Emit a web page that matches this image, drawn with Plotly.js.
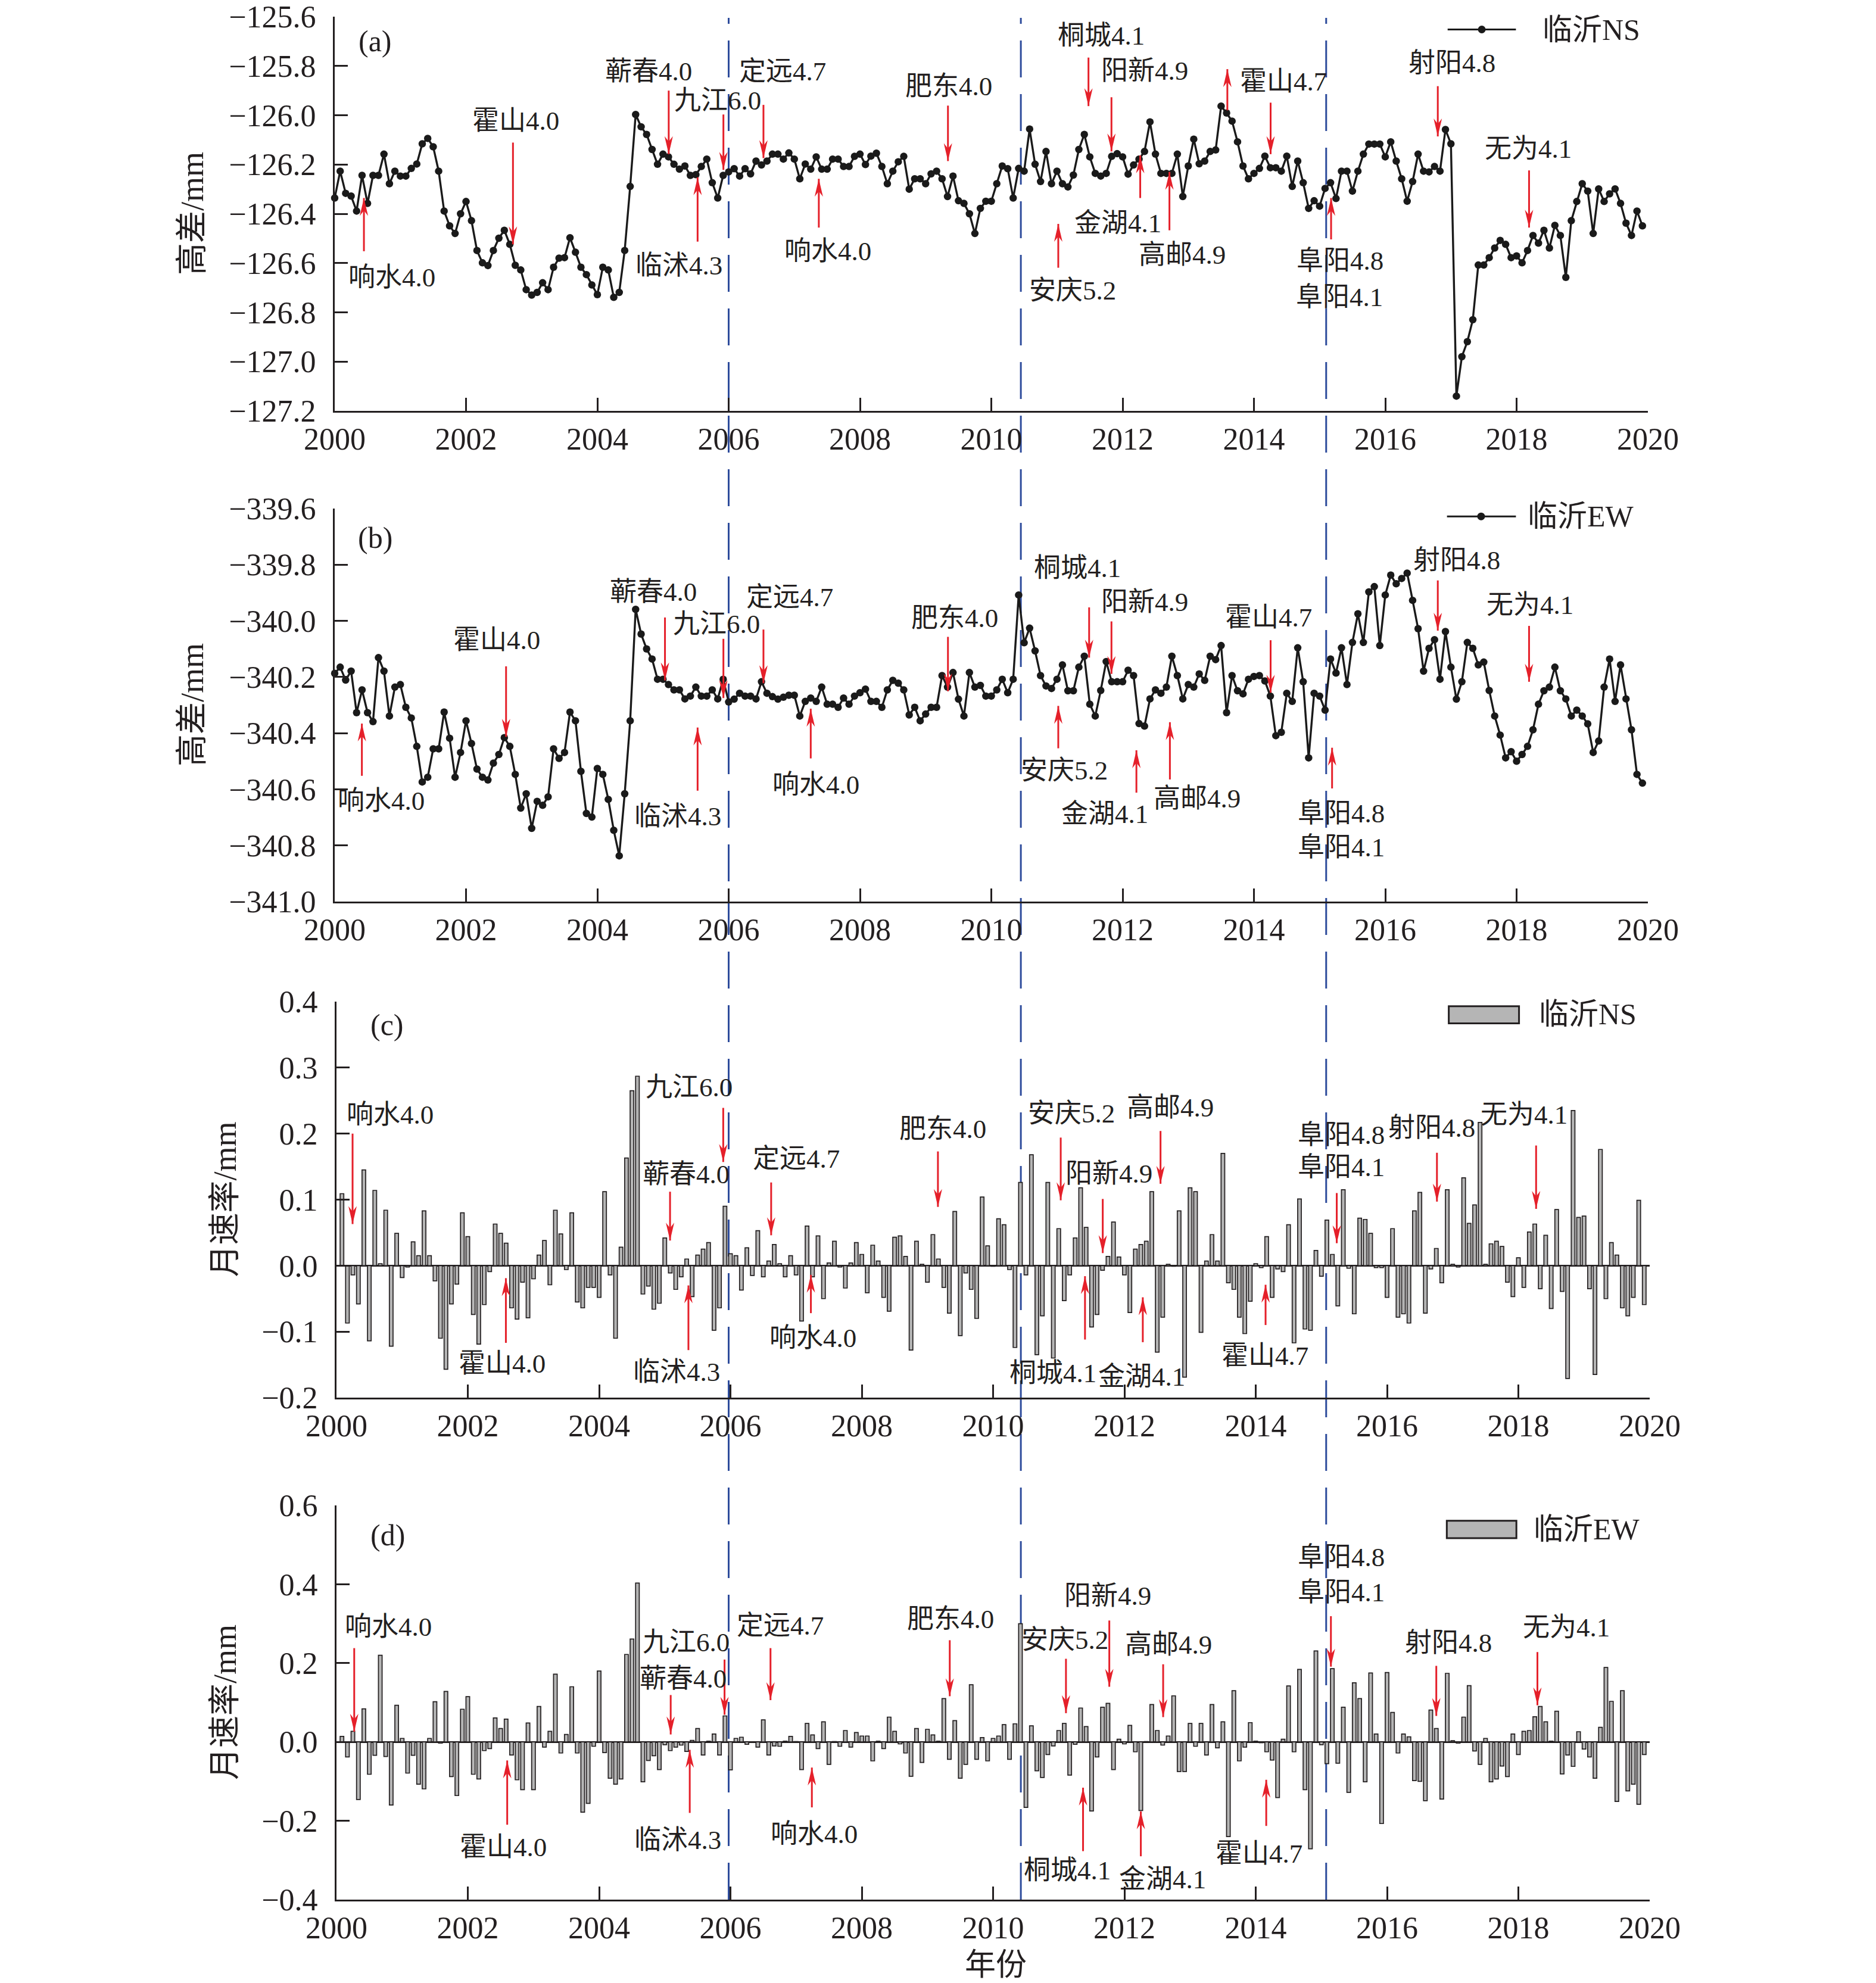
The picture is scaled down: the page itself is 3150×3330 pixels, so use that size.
<!DOCTYPE html>
<html><head><meta charset="utf-8">
<script src="https://cdn.plot.ly/plotly-3.0.1.min.js"></script>
<style>html,body{margin:0;padding:0;background:#fff}#chart{width:3150px;height:3330px}</style>
</head><body><div id="chart"></div>
<script>
// ---------------- data ----------------
const START_YEAR = 2000;
const yearTicks = [2000, 2002, 2004, 2006, 2008, 2010, 2012, 2014, 2016, 2018, 2020];

// (a) 临沂NS 高差/mm, monthly Jan 2000 - Dec 2019
const nsHeight = [
-126.336,-126.227,-126.317,-126.328,-126.389,-126.244,-126.358,-126.244,-126.244,-126.158,
-126.278,-126.227,-126.247,-126.247,-126.216,-126.198,-126.116,-126.094,-126.128,-126.227,
-126.389,-126.449,-126.480,-126.400,-126.350,-126.428,-126.549,-126.599,-126.610,-126.549,
-126.499,-126.467,-126.524,-126.609,-126.628,-126.708,-126.730,-126.719,-126.680,-126.708,
-126.617,-126.580,-126.578,-126.497,-126.556,-126.617,-126.647,-126.689,-126.728,-126.617,
-126.628,-126.739,-126.719,-126.549,-126.289,-125.997,-126.047,-126.078,-126.139,-126.199,
-126.158,-126.169,-126.199,-126.219,-126.206,-126.244,-126.241,-126.208,-126.178,-126.274,
-126.336,-126.244,-126.230,-126.217,-126.247,-126.217,-126.238,-126.186,-126.202,-126.186,
-126.158,-126.158,-126.178,-126.153,-126.178,-126.258,-126.198,-126.219,-126.169,-126.219,
-126.219,-126.178,-126.178,-126.208,-126.208,-126.167,-126.158,-126.200,-126.166,-126.154,
-126.208,-126.278,-126.227,-126.189,-126.167,-126.300,-126.258,-126.258,-126.278,-126.238,
-126.227,-126.258,-126.330,-126.247,-126.347,-126.358,-126.400,-126.480,-126.378,-126.349,
-126.349,-126.278,-126.206,-126.217,-126.336,-126.216,-126.227,-126.056,-126.199,-126.269,
-126.147,-126.278,-126.227,-126.278,-126.291,-126.243,-126.139,-126.078,-126.169,-126.236,
-126.247,-126.236,-126.167,-126.156,-126.169,-126.239,-126.202,-126.178,-126.147,-126.027,
-126.158,-126.236,-126.236,-126.236,-126.158,-126.330,-126.206,-126.097,-126.197,-126.186,
-126.147,-126.141,-125.963,-125.991,-126.024,-126.108,-126.206,-126.258,-126.236,-126.216,
-126.166,-126.213,-126.213,-126.227,-126.166,-126.289,-126.186,-126.274,-126.378,-126.347,
-126.369,-126.297,-126.274,-126.338,-126.227,-126.227,-126.308,-126.227,-126.158,-126.117,
-126.117,-126.117,-126.169,-126.108,-126.186,-126.258,-126.349,-126.269,-126.158,-126.227,
-126.230,-126.208,-126.227,-126.058,-126.116,-127.140,-126.980,-126.919,-126.830,-126.608,
-126.608,-126.578,-126.539,-126.508,-126.524,-126.578,-126.571,-126.599,-126.549,-126.488,
-126.519,-126.467,-126.539,-126.447,-126.488,-126.658,-126.428,-126.350,-126.278,-126.308,
-126.480,-126.299,-126.350,-126.319,-126.299,-126.358,-126.438,-126.488,-126.389,-126.449
];

// (b) 临沂EW 高差/mm
const ewHeight = [
-340.187,-340.165,-340.211,-340.179,-340.327,-340.246,-340.327,-340.359,-340.131,-340.179,
-340.339,-340.236,-340.227,-340.308,-340.346,-340.447,-340.574,-340.557,-340.456,-340.456,
-340.325,-340.418,-340.557,-340.469,-340.356,-340.437,-340.528,-340.557,-340.567,-340.507,
-340.476,-340.416,-340.447,-340.547,-340.667,-340.616,-340.739,-340.643,-340.657,-340.627,
-340.456,-340.490,-340.469,-340.325,-340.356,-340.536,-340.686,-340.699,-340.526,-340.547,
-340.636,-340.746,-340.837,-340.616,-340.356,-339.959,-340.047,-340.100,-340.136,-340.208,
-340.208,-340.227,-340.246,-340.246,-340.278,-340.268,-340.236,-340.268,-340.268,-340.246,
-340.278,-340.208,-340.289,-340.279,-340.258,-340.268,-340.268,-340.278,-340.217,-340.258,
-340.270,-340.279,-340.272,-340.265,-340.265,-340.339,-340.287,-340.275,-340.287,-340.236,
-340.297,-340.297,-340.308,-340.275,-340.297,-340.268,-340.256,-340.243,-340.287,-340.287,
-340.308,-340.246,-340.212,-340.222,-340.246,-340.335,-340.308,-340.356,-340.332,-340.308,
-340.308,-340.195,-340.236,-340.184,-340.279,-340.339,-340.184,-340.236,-340.230,-340.268,
-340.268,-340.246,-340.208,-340.256,-340.208,-339.908,-340.078,-340.026,-340.107,-340.195,
-340.232,-340.241,-340.208,-340.157,-340.249,-340.249,-340.165,-340.126,-340.297,-340.339,
-340.248,-340.145,-340.217,-340.217,-340.217,-340.176,-340.195,-340.366,-340.375,-340.278,
-340.246,-340.258,-340.236,-340.126,-340.195,-340.278,-340.227,-340.236,-340.189,-340.212,
-340.126,-340.138,-340.088,-340.327,-340.195,-340.249,-340.260,-340.208,-340.198,-340.195,
-340.214,-340.268,-340.409,-340.397,-340.258,-340.287,-340.096,-340.217,-340.488,-340.258,
-340.268,-340.318,-340.136,-340.186,-340.096,-340.227,-340.077,-339.975,-340.077,-339.897,
-339.878,-340.088,-339.908,-339.837,-339.868,-339.849,-339.830,-339.927,-340.028,-340.179,
-340.098,-340.067,-340.208,-340.038,-340.165,-340.279,-340.217,-340.077,-340.098,-340.157,
-340.147,-340.248,-340.339,-340.407,-340.488,-340.466,-340.500,-340.476,-340.447,-340.388,
-340.297,-340.249,-340.236,-340.165,-340.249,-340.278,-340.339,-340.318,-340.339,-340.367,
-340.469,-340.428,-340.236,-340.136,-340.287,-340.157,-340.278,-340.388,-340.547,-340.578
];

// (c) 临沂NS 月速率/mm (Feb 2000 - Dec 2019)
const nsRate = [
0.109,-0.087,-0.014,-0.058,0.145,-0.114,0.114,0.003,0.084,-0.122,
0.049,-0.018,-0.002,0.036,0.015,0.083,0.015,-0.023,-0.110,-0.157,
-0.058,-0.028,0.080,0.044,-0.074,-0.119,-0.059,-0.009,0.063,0.049,
0.034,-0.064,-0.081,-0.025,-0.079,-0.020,0.016,0.038,-0.029,0.084,
0.048,-0.006,0.080,-0.055,-0.064,-0.033,-0.033,-0.048,0.112,-0.014,
-0.110,0.028,0.163,0.265,0.287,-0.043,-0.031,-0.066,-0.057,0.042,
-0.011,-0.036,-0.017,0.010,-0.047,0.016,0.025,0.035,-0.098,-0.064,
0.090,0.018,0.015,-0.037,0.027,-0.015,0.053,-0.017,0.007,0.032,
0.003,-0.017,0.015,-0.014,-0.084,0.060,-0.017,0.045,-0.050,0.004,
0.037,-0.002,-0.034,0.004,0.035,0.017,-0.041,0.031,0.007,-0.048,
-0.069,0.043,0.045,0.014,-0.128,0.037,0.002,-0.025,0.047,0.010,
-0.033,-0.072,0.082,-0.106,-0.011,-0.036,-0.080,0.104,0.030,-0.001,
0.071,0.062,-0.006,-0.124,0.126,-0.014,0.168,-0.135,-0.076,0.126,
-0.140,0.056,-0.053,-0.014,0.042,0.118,0.058,-0.093,-0.074,-0.007,
0.014,0.066,0.013,-0.014,-0.071,0.025,0.032,0.037,0.112,-0.131,
-0.078,0.002,-0.001,0.083,-0.169,0.118,0.112,-0.101,0.007,0.047,
0.007,0.170,-0.026,-0.036,-0.078,-0.103,-0.054,0.003,-0.003,0.044,
-0.048,-0.005,-0.009,0.062,-0.117,0.101,-0.096,-0.098,0.023,-0.016,
0.069,0.017,-0.061,0.115,-0.004,-0.073,0.072,0.070,0.049,-0.003,
-0.003,-0.048,0.056,-0.078,-0.073,-0.087,0.083,0.111,-0.072,-0.005,
0.026,-0.026,0.115,0.002,-0.002,0.133,0.064,0.092,0.217,0.002,
0.033,0.037,0.029,-0.025,-0.047,0.012,-0.033,0.051,0.063,-0.035,
0.046,-0.065,0.085,-0.039,-0.171,0.235,0.073,0.075,-0.035,-0.165,
0.176,-0.050,0.035,0.016,-0.064,-0.076,-0.048,0.099,-0.059
];

// (d) 临沂EW 月速率/mm
const ewRate = [
0.014,-0.038,0.027,-0.146,0.084,-0.082,-0.034,0.220,-0.037,-0.160,
0.093,0.009,-0.079,-0.034,-0.107,-0.119,0.009,0.102,-0.003,0.128,
-0.088,-0.136,0.083,0.115,-0.082,-0.094,-0.022,-0.017,0.061,0.034,
0.058,-0.033,-0.096,-0.121,0.048,-0.121,0.090,-0.013,0.027,0.172,
-0.028,0.019,0.140,-0.028,-0.178,-0.156,-0.011,0.180,-0.027,-0.092,
-0.107,-0.094,0.222,0.261,0.403,-0.101,-0.047,-0.035,-0.070,-0.007,
-0.022,-0.013,-0.008,-0.024,0.004,0.034,-0.033,0.002,0.020,-0.033,
0.066,-0.071,0.009,0.012,-0.006,-0.001,-0.013,0.056,-0.033,-0.010,
-0.011,0.002,0.014,0.001,-0.070,0.047,0.018,-0.017,0.051,-0.057,
0.001,-0.011,0.029,-0.013,0.024,0.015,0.015,-0.048,0.002,-0.017,
0.063,0.027,-0.005,-0.028,-0.087,0.034,-0.052,0.032,0.018,0.002,
0.110,-0.044,0.054,-0.092,-0.057,0.145,-0.044,0.011,-0.048,0.009,
0.015,0.044,-0.044,0.046,0.300,-0.166,0.041,-0.073,-0.090,-0.032,
-0.010,0.029,0.047,-0.084,-0.006,0.086,0.039,-0.175,-0.038,0.088,
0.098,-0.070,0.007,-0.005,0.042,-0.025,-0.174,0.001,0.095,0.029,
-0.008,0.015,0.117,-0.075,-0.075,0.047,-0.011,0.047,-0.033,0.095,
-0.015,0.051,-0.240,0.130,-0.048,-0.013,0.049,0.002,-0.002,-0.025,
-0.046,-0.141,0.007,0.142,-0.025,0.184,-0.121,-0.271,0.231,-0.007,
-0.055,0.186,-0.054,0.088,-0.128,0.150,0.110,-0.101,0.175,0.020,
-0.207,0.176,0.075,-0.028,0.020,0.013,-0.098,-0.100,-0.149,0.081,
0.034,-0.145,0.174,0.003,-0.003,0.063,0.143,-0.023,-0.057,0.009,
-0.101,-0.094,-0.061,-0.088,0.020,-0.032,0.027,0.029,0.064,0.090,
0.051,0.002,0.078,-0.081,-0.033,-0.062,0.026,-0.018,-0.038,-0.092,
0.037,0.189,0.103,-0.151,0.130,-0.124,-0.107,-0.158,-0.032
];

// dashed dividing epochs (decimal year)
const dividers = [2006.0, 2010.45, 2015.1];

// earthquake labels: [text, year, value]
const labelsA = [
['响水4.0',2000.87,-126.658],['霍山4.0',2002.76,-126.024],['蕲春4.0',2004.78,-125.822],['九江6.0',2005.83,-125.941],
['临沭4.3',2005.24,-126.611],['定远4.7',2006.82,-125.822],['响水4.0',2007.51,-126.552],['肥东4.0',2009.35,-125.882],
['桐城4.1',2011.67,-125.678],['阳新4.9',2012.34,-125.819],['安庆5.2',2011.24,-126.711],['金湖4.1',2011.93,-126.438],
['高邮4.9',2012.91,-126.567],['霍山4.7',2014.45,-125.863],['射阳4.8',2017.02,-125.789],['阜阳4.8',2015.31,-126.591],
['阜阳4.1',2015.30,-126.738],['无为4.1',2018.18,-126.136]];
// arrows: [year, tail value, head value]
const arrowsA = [
[2000.445,-126.552,-126.336],[2002.715,-126.111,-126.524],[2005.087,-125.900,-126.158],[2005.92,-125.997,-126.222],
[2005.527,-126.513,-126.252],[2006.53,-125.958,-126.174],[2007.373,-126.456,-126.258],[2009.34,-125.961,-126.186],
[2011.48,-125.766,-125.963],[2011.83,-125.927,-126.147],[2011.02,-126.619,-126.441],[2012.268,-126.336,-126.163],
[2012.713,-126.467,-126.230],[2013.595,-125.980,-125.813],[2014.254,-125.949,-126.158],[2016.80,-125.882,-126.086],
[2015.175,-126.504,-126.336],[2018.19,-126.224,-126.456]];

const labelsB = [
['响水4.0',2000.71,-340.641],['霍山4.0',2002.47,-340.069],['蕲春4.0',2004.85,-339.897],['九江6.0',2005.81,-340.011],
['临沭4.3',2005.22,-340.696],['定远4.7',2006.93,-339.916],['响水4.0',2007.33,-340.584],['肥东4.0',2009.44,-339.990],
['桐城4.1',2011.31,-339.812],['阳新4.9',2012.34,-339.933],['安庆5.2',2011.11,-340.533],['金湖4.1',2011.73,-340.689],
['高邮4.9',2013.13,-340.632],['霍山4.7',2014.22,-339.988],['射阳4.8',2017.09,-339.784],['阜阳4.8',2015.33,-340.686],
['阜阳4.1',2015.33,-340.808],['无为4.1',2018.20,-339.944]];
const arrowsB = [
[2000.414,-340.552,-340.366],[2002.61,-340.162,-340.413],[2005.03,-339.988,-340.212],[2005.92,-340.064,-340.275],
[2005.527,-340.605,-340.380],[2006.53,-340.031,-340.222],[2007.25,-340.490,-340.313],[2009.34,-340.057,-340.251],
[2011.49,-339.952,-340.131],[2011.83,-340.002,-340.189],[2011.02,-340.454,-340.303],[2012.21,-340.612,-340.461],
[2012.72,-340.565,-340.361],[2014.254,-340.069,-340.256],[2016.80,-339.856,-340.035],[2015.19,-340.597,-340.452],
[2018.19,-340.018,-340.217]];

const labelsC = [
['响水4.0',2000.82,0.229],['霍山4.0',2002.52,-0.149],['九江6.0',2005.37,0.270],['蕲春4.0',2005.32,0.138],
['临沭4.3',2005.18,-0.161],['定远4.7',2007.00,0.162],['响水4.0',2007.26,-0.110],['肥东4.0',2009.23,0.207],
['安庆5.2',2011.19,0.230],['高邮4.9',2012.70,0.239],['阳新4.9',2011.76,0.139],['桐城4.1',2010.91,-0.163],
['金湖4.1',2012.26,-0.168],['霍山4.7',2014.14,-0.137],['阜阳4.8',2015.30,0.198],['阜阳4.1',2015.30,0.149],
['射阳4.8',2016.68,0.209],['无为4.1',2018.09,0.229]];
const arrowsC = [
[2000.245,0.200,0.063],[2002.58,-0.117,-0.019],[2005.89,0.239,0.157],[2005.08,0.112,0.038],
[2005.36,-0.128,-0.030],[2006.62,0.126,0.046],[2007.225,-0.072,-0.014],[2009.16,0.173,0.089],
[2011.03,0.194,0.099],[2012.55,0.204,0.124],[2011.67,0.101,0.019],[2011.40,-0.112,-0.016],
[2012.28,-0.116,-0.048],[2014.15,-0.090,-0.029],[2015.234,0.110,0.034],[2016.76,0.171,0.097],
[2018.27,0.182,0.086]];

const labelsD = [
['响水4.0',2000.79,0.292],['霍山4.0',2002.54,-0.267],['九江6.0',2005.32,0.253],['蕲春4.0',2005.28,0.160],
['临沭4.3',2005.20,-0.249],['定远4.7',2006.76,0.295],['响水4.0',2007.27,-0.234],['肥东4.0',2009.35,0.312],
['安庆5.2',2011.09,0.258],['阳新4.9',2011.75,0.370],['高邮4.9',2012.67,0.246],['桐城4.1',2011.13,-0.326],
['金湖4.1',2012.58,-0.348],['霍山4.7',2014.05,-0.284],['阜阳4.8',2015.30,0.469],['阜阳4.1',2015.30,0.379],
['射阳4.8',2016.93,0.251],['无为4.1',2018.73,0.290]];
const arrowsD = [
[2000.27,0.238,0.026],[2002.60,-0.210,-0.047],[2005.91,0.209,0.069],[2005.09,0.119,0.019],
[2005.38,-0.180,-0.020],[2006.61,0.238,0.106],[2007.24,-0.166,-0.065],[2009.34,0.258,0.116],
[2011.11,0.211,0.073],[2011.77,0.308,0.140],[2012.59,0.197,0.063],[2011.37,-0.277,-0.116],
[2012.25,-0.290,-0.176],[2014.16,-0.213,-0.096],[2015.145,0.319,0.191],[2016.75,0.193,0.066],
[2018.29,0.228,0.093]];

const seriesNames = ['临沂NS', '临沂EW', '临沂NS', '临沂EW'];
const panelTags = ['(a)', '(b)', '(c)', '(d)'];

// ---------------- build ----------------
const INK = '#231f20', RED = '#e5202a', BLUE = '#2e4c9c', BARFILL = '#b5b5b5';
const monthsH = nsHeight.map((_, i) => START_YEAR + i / 12);
const monthsR = nsRate.map((_, i) => START_YEAR + (i + 1) / 12);

const traces = [
  {type:'scatter', mode:'lines+markers', x:monthsH, y:nsHeight, xaxis:'x', yaxis:'y', name:seriesNames[0],
   line:{color:'#1a1a1a', width:3.4}, marker:{size:12.5, color:'#1a1a1a'}, showlegend:false, cliponaxis:false},
  {type:'scatter', mode:'lines+markers', x:monthsH, y:ewHeight, xaxis:'x2', yaxis:'y2', name:seriesNames[1],
   line:{color:'#1a1a1a', width:3.4}, marker:{size:12.5, color:'#1a1a1a'}, showlegend:false, cliponaxis:false},
  {type:'bar', x:monthsR, y:nsRate, xaxis:'x3', yaxis:'y3', name:seriesNames[2], width:0.056,
   marker:{color:BARFILL, line:{color:INK, width:1.7}}, showlegend:false},
  {type:'bar', x:monthsR, y:ewRate, xaxis:'x4', yaxis:'y4', name:seriesNames[3], width:0.056,
   marker:{color:BARFILL, line:{color:INK, width:1.7}}, showlegend:false}
];

const W = 3150, H = 3330;
const fx = px => px / W, fy = px => 1 - px / H;
const domX1 = [fx(562), fx(2767)], domX2 = [fx(565), fx(2770)];
const domY = [[fy(690), fy(28)], [fy(1514), fy(854)], [fy(2347), fy(1682)], [fy(3190), fy(2528)]];

function xAxis(domain, anchor) {
  return {domain, anchor, range:[2000, 2020], tickvals:yearTicks, ticktext:yearTicks.map(String),
    showline:true, linewidth:3, linecolor:INK, ticks:'inside', ticklen:22, tickwidth:3, tickcolor:INK,
    showgrid:false, zeroline:false, tickfont:{size:52, color:INK}, ticklabelstandoff:0, fixedrange:true};
}
function yAxis(domain, anchor, range, dtick, zl) {
  return {domain, anchor, range, tick0:range[0], dtick, tickformat:'.1f',
    showline:true, linewidth:3, linecolor:INK, ticks:'inside', ticklen:22, tickwidth:3, tickcolor:INK,
    showgrid:false, zeroline:!!zl, zerolinecolor:INK, zerolinewidth:3,
    tickfont:{size:52, color:INK}, ticklabelstandoff:18, fixedrange:true};
}

const annotations = [];
const shapes = [];
const panels = [
  {xr:'x', yr:'y', labels:labelsA, arrows:arrowsA},
  {xr:'x2', yr:'y2', labels:labelsB, arrows:arrowsB},
  {xr:'x3', yr:'y3', labels:labelsC, arrows:arrowsC},
  {xr:'x4', yr:'y4', labels:labelsD, arrows:arrowsD}
];
panels.forEach(p => {
  p.labels.forEach(([t, x, y]) => annotations.push({xref:p.xr, yref:p.yr, x, y, text:t, showarrow:false,
    xanchor:'center', yanchor:'middle', font:{size:45, color:INK}}));
  p.arrows.forEach(([x, yt, yh]) => {
    const down = yh < yt;
    shapes.push({type:'line', xref:p.xr, yref:p.yr, x0:x, x1:x, y0:yt, y1:yh, line:{color:RED, width:3}, layer:'above'});
    shapes.push({type:'path', xref:p.xr, yref:p.yr, xsizemode:'pixel', ysizemode:'pixel', xanchor:x, yanchor:yh,
      path: down ? 'M0,0L-7,30L0,21L7,30Z' : 'M0,0L-7,-30L0,-21L7,-30Z',
      fillcolor:RED, line:{width:0}, layer:'above'});
  });
});

// panel tags
[['x','y',2000.62,-125.70],['x2','y2',2000.62,-339.705],['x3','y3',2000.77,0.365],['x4','y4',2000.78,0.524]]
  .forEach(([xr, yr, x, y], k) => annotations.push({xref:xr, yref:yr, x, y, text:panelTags[k], showarrow:false,
    xanchor:'center', yanchor:'middle', font:{size:50, color:INK}}));

// legends (drawn by hand to match the wide symbols)
shapes.push({type:'line', xref:'x', yref:'y', x0:2016.95, x1:2017.99, y0:-125.652, y1:-125.652, line:{color:'#1a1a1a', width:3}});
shapes.push({type:'circle', xref:'x', yref:'y', xsizemode:'pixel', ysizemode:'pixel', xanchor:2017.47, yanchor:-125.652,
  x0:-6.5, x1:6.5, y0:-6.5, y1:6.5, fillcolor:'#1a1a1a', line:{width:0}});
annotations.push({xref:'x', yref:'y', x:2019.14, y:-125.652, text:seriesNames[0], showarrow:false, xanchor:'center', yanchor:'middle', font:{size:50, color:INK}});
shapes.push({type:'line', xref:'x2', yref:'y2', x0:2016.94, x1:2017.99, y0:-339.628, y1:-339.628, line:{color:'#1a1a1a', width:3}});
shapes.push({type:'circle', xref:'x2', yref:'y2', xsizemode:'pixel', ysizemode:'pixel', xanchor:2017.46, yanchor:-339.628,
  x0:-6.5, x1:6.5, y0:-6.5, y1:6.5, fillcolor:'#1a1a1a', line:{width:0}});
annotations.push({xref:'x2', yref:'y2', x:2018.98, y:-339.628, text:seriesNames[1], showarrow:false, xanchor:'center', yanchor:'middle', font:{size:50, color:INK}});
shapes.push({type:'rect', xref:'x3', yref:'y3', x0:2016.94, x1:2018.01, y0:0.367, y1:0.393, fillcolor:BARFILL, line:{color:INK, width:3}});
annotations.push({xref:'x3', yref:'y3', x:2019.06, y:0.381, text:seriesNames[2], showarrow:false, xanchor:'center', yanchor:'middle', font:{size:50, color:INK}});
shapes.push({type:'rect', xref:'x4', yref:'y4', x0:2016.91, x1:2017.97, y0:0.517, y1:0.561, fillcolor:BARFILL, line:{color:INK, width:3}});
annotations.push({xref:'x4', yref:'y4', x:2019.04, y:0.539, text:seriesNames[3], showarrow:false, xanchor:'center', yanchor:'middle', font:{size:50, color:INK}});

// dashed dividers spanning all panels
dividers.forEach(d => shapes.push({type:'line', xref:'x', yref:'paper', x0:d, x1:d, y0:fy(3190), y1:fy(30),
  line:{color:BLUE, width:3, dash:'62px,28px'}, layer:'below'}));

// axis titles
const yTitles = ['高差/mm', '高差/mm', '月速率/mm', '月速率/mm'];
const yTitleX = [fx(323), fx(323), fx(378), fx(378)];
yTitles.forEach((t, k) => annotations.push({xref:'paper', yref:'paper', x:yTitleX[k], y:(domY[k][0] + domY[k][1]) / 2,
  text:t, textangle:-90, showarrow:false, xanchor:'center', yanchor:'middle', font:{size:54, color:INK}}));
annotations.push({xref:'paper', yref:'paper', x:fx(1672), y:fy(3299), text:'年份', showarrow:false,
  xanchor:'center', yanchor:'middle', font:{size:52, color:INK}});

const layout = {
  width:W, height:H, margin:{l:0, r:0, t:0, b:0}, paper_bgcolor:'#ffffff', plot_bgcolor:'rgba(0,0,0,0)',
  font:{family:"'Liberation Serif', 'Noto Sans CJK SC', serif", color:INK, size:50},
  showlegend:false, hovermode:false, bargap:0,
  xaxis:xAxis(domX1, 'y'), yaxis:yAxis(domY[0], 'x', [-127.2, -125.6], 0.2),
  xaxis2:xAxis(domX1, 'y2'), yaxis2:yAxis(domY[1], 'x2', [-341.0, -339.6], 0.2),
  xaxis3:xAxis(domX2, 'y3'), yaxis3:yAxis(domY[2], 'x3', [-0.2, 0.4], 0.1, true),
  xaxis4:xAxis(domX2, 'y4'), yaxis4:yAxis(domY[3], 'x4', [-0.4, 0.6], 0.2, true),
  annotations, shapes
};
Plotly.newPlot('chart', traces, layout, {displayModeBar:false, staticPlot:true});
</script></body></html>
